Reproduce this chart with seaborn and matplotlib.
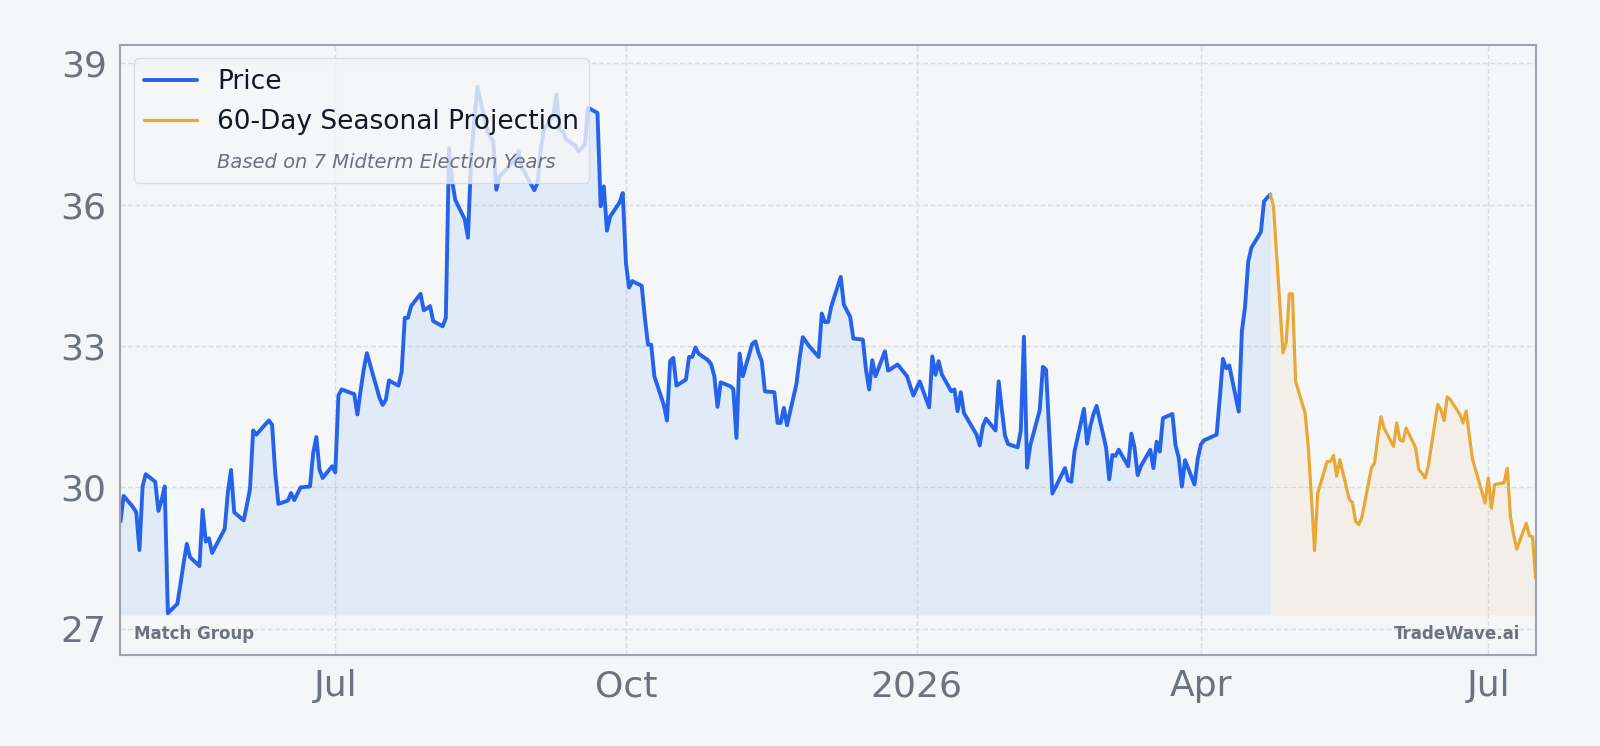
import pandas as pd
import seaborn as sns
import matplotlib.pyplot as plt
import matplotlib.dates as mdates
from matplotlib.lines import Line2D
from matplotlib.ticker import FuncFormatter

# daily closes
price_dates = [
    "2025-04-24", "2025-04-25", "2025-04-28", "2025-04-29", "2025-04-30", "2025-05-01", "2025-05-02",
    "2025-05-05", "2025-05-06", "2025-05-07", "2025-05-08", "2025-05-09", "2025-05-12", "2025-05-13",
    "2025-05-14", "2025-05-15", "2025-05-16", "2025-05-19", "2025-05-20", "2025-05-21", "2025-05-22",
    "2025-05-23", "2025-05-27", "2025-05-28", "2025-05-29", "2025-05-30", "2025-06-02", "2025-06-03",
    "2025-06-04", "2025-06-05", "2025-06-06", "2025-06-09", "2025-06-10", "2025-06-11", "2025-06-12",
    "2025-06-13", "2025-06-16", "2025-06-17", "2025-06-18", "2025-06-20", "2025-06-23", "2025-06-24",
    "2025-06-25", "2025-06-26", "2025-06-27", "2025-06-30", "2025-07-01", "2025-07-02", "2025-07-03",
    "2025-07-07", "2025-07-08", "2025-07-09", "2025-07-10", "2025-07-11", "2025-07-14", "2025-07-15",
    "2025-07-16", "2025-07-17", "2025-07-18", "2025-07-21", "2025-07-22", "2025-07-23", "2025-07-24",
    "2025-07-25", "2025-07-28", "2025-07-29", "2025-07-30", "2025-07-31", "2025-08-01", "2025-08-04",
    "2025-08-05", "2025-08-06", "2025-08-07", "2025-08-08", "2025-08-11", "2025-08-12", "2025-08-13",
    "2025-08-14", "2025-08-15", "2025-08-18", "2025-08-19", "2025-08-20", "2025-08-21", "2025-08-22",
    "2025-08-25", "2025-08-26", "2025-08-27", "2025-08-28", "2025-08-29", "2025-09-02", "2025-09-03",
    "2025-09-04", "2025-09-05", "2025-09-08", "2025-09-09", "2025-09-10", "2025-09-11", "2025-09-12",
    "2025-09-15", "2025-09-16", "2025-09-17", "2025-09-18", "2025-09-19", "2025-09-22", "2025-09-23",
    "2025-09-24", "2025-09-25", "2025-09-26", "2025-09-29", "2025-09-30", "2025-10-01", "2025-10-02",
    "2025-10-03", "2025-10-06", "2025-10-07", "2025-10-08", "2025-10-09", "2025-10-10", "2025-10-13",
    "2025-10-14", "2025-10-15", "2025-10-16", "2025-10-17", "2025-10-20", "2025-10-21", "2025-10-22",
    "2025-10-23", "2025-10-24", "2025-10-27", "2025-10-28", "2025-10-29", "2025-10-30", "2025-10-31",
    "2025-11-03", "2025-11-04", "2025-11-05", "2025-11-06", "2025-11-07", "2025-11-10", "2025-11-11",
    "2025-11-12", "2025-11-13", "2025-11-14", "2025-11-17", "2025-11-18", "2025-11-19", "2025-11-20",
    "2025-11-21", "2025-11-24", "2025-11-25", "2025-11-26", "2025-11-28", "2025-12-01", "2025-12-02",
    "2025-12-03", "2025-12-04", "2025-12-05", "2025-12-08", "2025-12-09", "2025-12-10", "2025-12-11",
    "2025-12-12", "2025-12-15", "2025-12-16", "2025-12-17", "2025-12-18", "2025-12-19", "2025-12-22",
    "2025-12-23", "2025-12-24", "2025-12-26", "2025-12-29", "2025-12-30", "2025-12-31", "2026-01-02",
    "2026-01-05", "2026-01-06", "2026-01-07", "2026-01-08", "2026-01-09", "2026-01-12", "2026-01-13",
    "2026-01-14", "2026-01-15", "2026-01-16", "2026-01-20", "2026-01-21", "2026-01-22", "2026-01-23",
    "2026-01-26", "2026-01-27", "2026-01-28", "2026-01-29", "2026-01-30", "2026-02-02", "2026-02-03",
    "2026-02-04", "2026-02-05", "2026-02-06", "2026-02-09", "2026-02-10", "2026-02-11", "2026-02-12",
    "2026-02-13", "2026-02-17", "2026-02-18", "2026-02-19", "2026-02-20", "2026-02-23", "2026-02-24",
    "2026-02-25", "2026-02-26", "2026-02-27", "2026-03-02", "2026-03-03", "2026-03-04", "2026-03-05",
    "2026-03-06", "2026-03-09", "2026-03-10", "2026-03-11", "2026-03-12", "2026-03-13", "2026-03-16",
    "2026-03-17", "2026-03-18", "2026-03-19", "2026-03-20", "2026-03-23", "2026-03-24", "2026-03-25",
    "2026-03-26", "2026-03-27", "2026-03-30", "2026-03-31", "2026-04-01", "2026-04-02", "2026-04-06",
    "2026-04-07", "2026-04-08", "2026-04-09", "2026-04-10", "2026-04-13", "2026-04-14", "2026-04-15",
    "2026-04-16", "2026-04-17", "2026-04-20", "2026-04-21", "2026-04-22", "2026-04-23",
]
price_values = [
    29.28, 29.82, 29.58, 29.47, 28.67, 30.02, 30.28,
    30.12, 29.50, 29.72, 30.02, 27.33, 27.53, 27.95,
    28.40, 28.80, 28.52, 28.33, 29.52, 28.85, 28.92,
    28.61, 29.12, 29.90, 30.37, 29.47, 29.30, 29.62,
    29.97, 31.21, 31.12, 31.35, 31.42, 31.33, 30.30,
    29.65, 29.72, 29.88, 29.73, 30.00, 30.02, 30.73,
    31.07, 30.38, 30.20, 30.45, 30.32, 31.95, 32.08,
    31.98, 31.55, 32.05, 32.50, 32.85, 32.14, 31.90,
    31.75, 31.86, 32.27, 32.16, 32.45, 33.60, 33.60,
    33.85, 34.11, 33.76, 33.80, 33.85, 33.53, 33.42,
    33.60, 37.20, 36.50, 36.10, 35.69, 35.30, 37.00,
    37.80, 38.50, 37.60, 37.45, 37.35, 36.32, 36.60,
    36.82, 36.90, 37.00, 37.14, 36.80, 36.31, 36.46,
    37.14, 37.60, 37.88, 38.34, 37.60, 37.56, 37.40,
    37.25, 37.14, 37.20, 37.28, 38.06, 37.95, 35.97,
    36.39, 35.45, 35.75, 36.05, 36.25, 34.77, 34.24,
    34.38, 34.28, 33.60, 33.03, 33.03, 32.36, 31.75,
    31.42, 32.68, 32.75, 32.16, 32.29, 32.77, 32.77,
    32.97, 32.84, 32.70, 32.61, 32.36, 31.71, 32.23,
    32.15, 32.09, 31.05, 32.84, 32.36, 33.05, 33.10,
    32.85, 32.68, 32.04, 32.02, 31.37, 31.37, 31.69,
    31.32, 32.20, 32.75, 33.19, 33.00, 32.77, 33.69,
    33.51, 33.51, 33.84, 34.47, 33.88, 33.75, 33.62,
    33.16, 33.14, 32.50, 32.08, 32.70, 32.36, 32.89,
    32.48, 32.52, 32.61, 32.36, 32.15, 31.95, 32.25,
    31.70, 32.78, 32.39, 32.68, 32.40, 32.04, 32.08,
    31.62, 32.02, 31.58, 31.12, 30.89, 31.30, 31.46,
    31.21, 32.25, 31.65, 31.10, 30.92, 30.85, 31.20,
    33.20, 30.42, 30.89, 31.64, 32.56, 32.50, 31.20,
    29.87, 30.41, 30.15, 30.12, 30.76, 31.67, 30.93,
    31.30, 31.55, 31.73, 30.85, 30.17, 30.69, 30.67,
    30.80, 30.45, 31.14, 30.85, 30.26, 30.45, 30.80,
    30.41, 30.97, 30.76, 31.47, 31.56, 30.89, 30.63,
    30.02, 30.58, 30.06, 30.60, 30.91, 31.00, 31.12,
    31.90, 32.73, 32.53, 32.59, 31.61, 33.32, 33.84,
    34.79, 35.09, 35.42, 36.07, 36.15, 36.22,
]

# 60 trading days of seasonal projection, starting from the last close
proj_dates = [
    "2026-04-23", "2026-04-24", "2026-04-27", "2026-04-28", "2026-04-29", "2026-04-30", "2026-05-01",
    "2026-05-04", "2026-05-05", "2026-05-06", "2026-05-07", "2026-05-08", "2026-05-11", "2026-05-12",
    "2026-05-13", "2026-05-14", "2026-05-15", "2026-05-18", "2026-05-19", "2026-05-20", "2026-05-21",
    "2026-05-22", "2026-05-25", "2026-05-26", "2026-05-27", "2026-05-28", "2026-05-29", "2026-06-01",
    "2026-06-02", "2026-06-03", "2026-06-04", "2026-06-05", "2026-06-08", "2026-06-09", "2026-06-10",
    "2026-06-11", "2026-06-12", "2026-06-15", "2026-06-16", "2026-06-17", "2026-06-18", "2026-06-19",
    "2026-06-22", "2026-06-23", "2026-06-24", "2026-06-25", "2026-06-26", "2026-06-29", "2026-06-30",
    "2026-07-01", "2026-07-02", "2026-07-03", "2026-07-06", "2026-07-07", "2026-07-08", "2026-07-09",
    "2026-07-10", "2026-07-13", "2026-07-14", "2026-07-15", "2026-07-16",
]
proj_values = [
    36.22, 35.97, 32.86, 33.07, 34.11, 34.11, 32.25,
    31.58, 30.87, 29.80, 28.66, 29.88, 30.55, 30.55,
    30.68, 30.24, 30.59, 29.74, 29.68, 29.28, 29.21,
    29.37, 30.41, 30.52, 31.05, 31.50, 31.26, 30.87,
    31.37, 31.01, 30.98, 31.26, 30.84, 30.38, 30.30,
    30.20, 30.45, 31.76, 31.65, 31.42, 31.92, 31.86,
    31.55, 31.37, 31.62, 31.10, 30.60, 29.90, 29.67,
    30.20, 29.56, 30.06, 30.10, 30.41, 29.39, 29.00,
    28.69, 29.24, 28.98, 28.95, 28.07,
]

y_ticks = [27, 30, 33, 36, 39]
tick_months = [1, 4, 7, 10]

BLUE = "#2563eb"
ORANGE = "#e8a838"
BG = "#f4f6f8"
GRAY = "#6b7280"


def month_label(x, pos):
    d = mdates.num2date(x)
    return str(d.year) if d.month == 1 else d.strftime("%b")


def main():
    price = pd.DataFrame({"date": pd.to_datetime(price_dates), "value": price_values})
    proj = pd.DataFrame({"date": pd.to_datetime(proj_dates), "value": proj_values})

    sns.set_theme(style="whitegrid")
    plt.rcParams["font.family"] = ["DejaVu Sans"]

    fig, ax = plt.subplots(figsize=(16, 7.46), dpi=100)
    fig.patch.set_facecolor(BG)
    ax.set_facecolor(BG)
    fig.subplots_adjust(left=0.0753, right=0.9598, top=0.9398, bottom=0.1216)

    lo = min(price_values + proj_values)
    hi = max(price_values + proj_values)
    pad = (hi - lo) * 0.08
    base = lo - 0.04

    ax.fill_between(price["date"], price["value"], base, color="#3b82f6", alpha=0.1, lw=0)
    ax.fill_between(proj["date"], proj["value"], base, color=ORANGE, alpha=0.08, lw=0)
    sns.lineplot(data=price, x="date", y="value", color=BLUE, lw=2.8, ax=ax)
    sns.lineplot(data=proj, x="date", y="value", color=ORANGE, lw=2.3, ax=ax)

    ax.set_xlim(price["date"].iloc[0], proj["date"].iloc[-1])
    ax.set_ylim(lo - pad, hi + pad)
    ax.set_yticks(y_ticks)
    ax.xaxis.set_major_locator(mdates.MonthLocator(bymonth=tick_months))
    ax.xaxis.set_major_formatter(FuncFormatter(month_label))
    ax.set_xlabel("")
    ax.set_ylabel("")

    ax.grid(True, linestyle="--", color="#d9dde3", lw=1)
    ax.tick_params(axis="both", labelsize=26, colors=GRAY, length=4, width=1, pad=6)
    for s in ax.spines.values():
        s.set_color("#9ca3af")
        s.set_linewidth(1.5)

    handles = [
        Line2D([], [], color=BLUE, lw=2.8),
        Line2D([], [], color=ORANGE, lw=2.3),
        Line2D([], [], color="none"),
    ]
    labels = ["Price", "60-Day Seasonal Projection", "Based on 7 Midterm Election Years"]
    leg = ax.legend(handles, labels, loc="upper left", bbox_to_anchor=(0.0094, 0.978),
                    borderaxespad=0, fontsize=19, frameon=True, facecolor=BG,
                    edgecolor="#d5d9df", framealpha=0.8, handlelength=2.0,
                    handletextpad=0.75, labelspacing=0.55)
    for t in leg.get_texts():
        t.set_color("#111827")
    sub = leg.get_texts()[2]
    sub.set_fontstyle("italic")
    sub.set_fontsize(14)
    sub.set_color(GRAY)

    ax.text(0.0094, 0.035, "Match Group", transform=ax.transAxes, fontsize=12,
            fontweight="bold", color=GRAY, ha="left", va="center")
    ax.text(0.989, 0.035, "TradeWave.ai", transform=ax.transAxes, fontsize=12,
            fontweight="bold", color=GRAY, ha="right", va="center")

    fig.savefig("out.png", dpi=100, facecolor=BG)


if __name__ == "__main__":
    main()
